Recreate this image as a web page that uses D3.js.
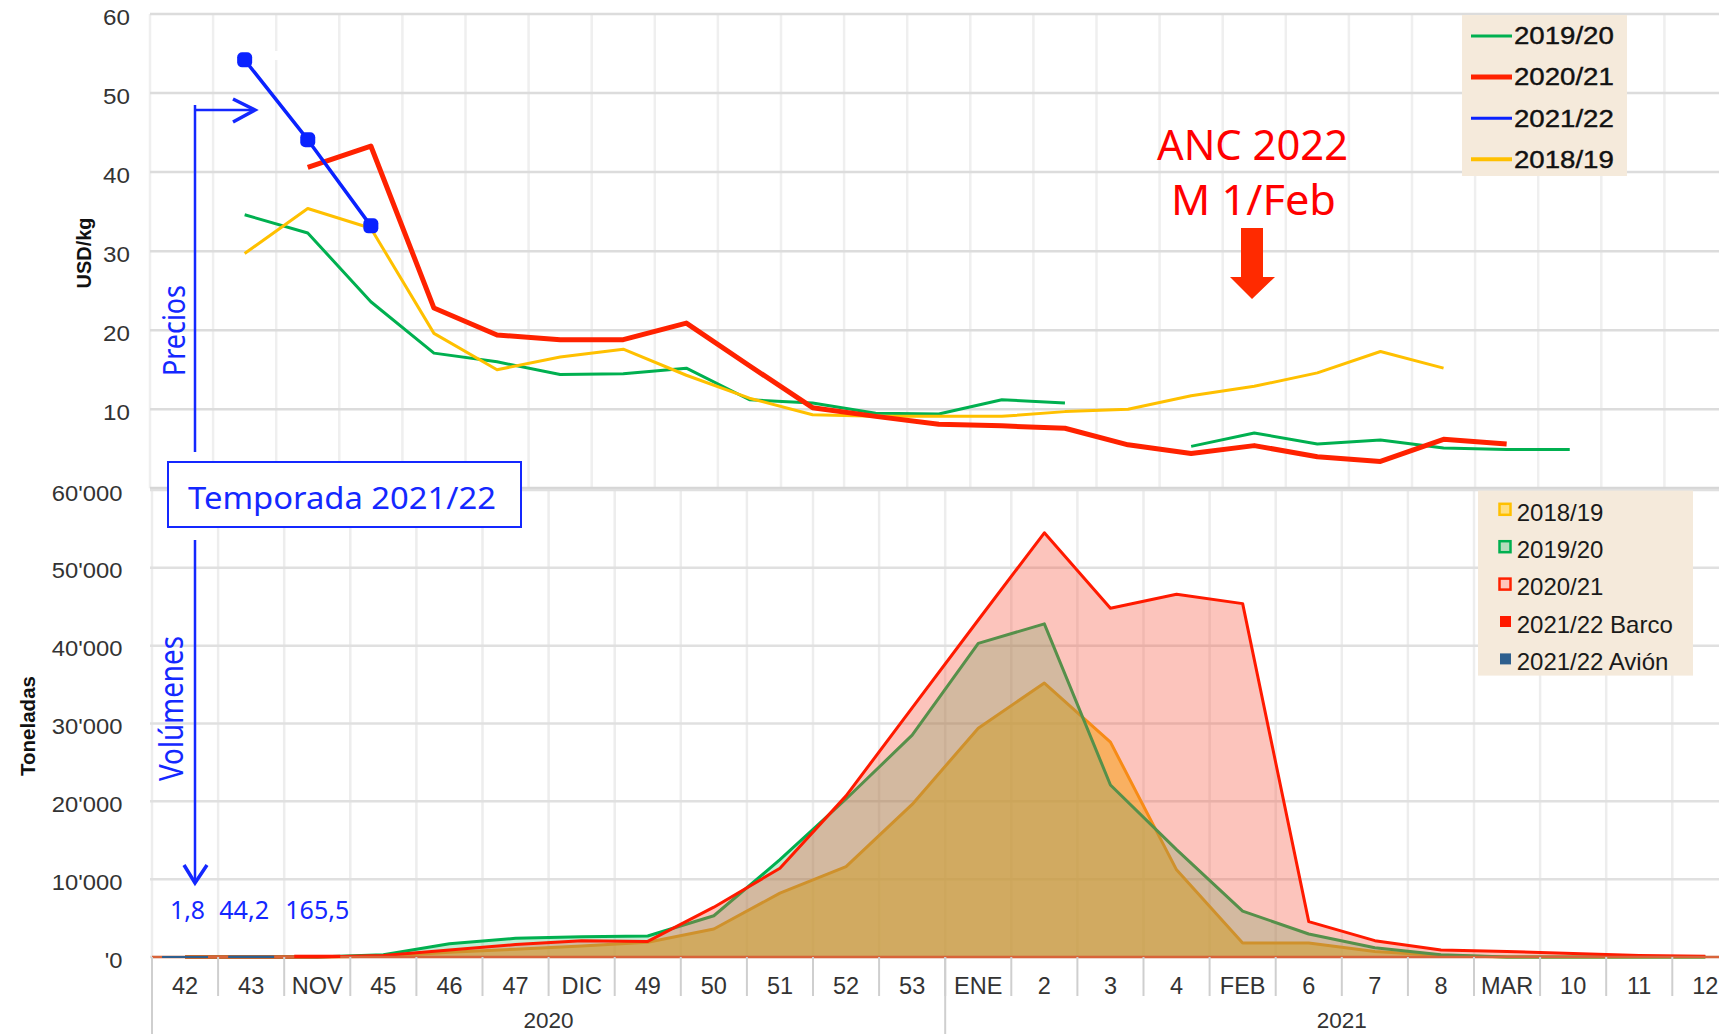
<!DOCTYPE html>
<html>
<head>
<meta charset="utf-8">
<script src="https://cdn.jsdelivr.net/npm/d3@7"></script>
<style>
  body { margin: 0; background: #fff; }
  svg { display: block; }
  text { font-family: "Liberation Sans", Arial, sans-serif; }
  .calibri { font-family: "Noto Sans", "Open Sans", sans-serif; }
</style>
</head>
<body>
<svg id="chart"></svg>
<script>
// ---- data ----
const weeks = ["42","43","NOV","45","46","47","DIC","49","50","51","52","53",
               "ENE","2","3","4","FEB","6","7","8","MAR","10","11","12"];
const yearLabels = ["2020", "2021"];
const yearSpans = [[0, 11], [12, 23]];

// precios USD/kg
const priceTicks = [0, 10, 20, 30, 40, 50, 60];
const precio1920 = [null, 34.6, 32.3, 23.6, 17.1, 16.0, 14.4, 14.5, 15.2, 11.2, 10.8, 9.5,
                    9.4, 11.2, 10.8, null, 5.3, 7.0, 5.6, 6.1, 5.1, 4.9, 4.9, null];
const precio1819 = [null, 29.7, 35.4, 32.9, 19.6, 15.0, 16.6, 17.6, 14.3, 11.4, 9.3, 9.1,
                    9.1, 9.1, 9.7, 10.0, 11.7, 12.9, 14.6, 17.3, 15.2, null, null, null];
const precio2021 = [null, null, 40.6, 43.3, 22.8, 19.4, 18.8, 18.8, 20.9, 15.5, 10.2, 9.1,
                    8.1, 7.9, 7.6, 5.5, 4.4, 5.4, 4.0, 3.4, 6.2, 5.6, null, null];
const precio2122 = [null, 54.2, 44.1, 33.2, null, null, null, null, null, null, null, null,
                    null, null, null, null, null, null, null, null, null, null, null, null];
const priceLegend = ["2019/20", "2020/21", "2021/22", "2018/19"];

// volúmenes (toneladas)
const volTicks = [0, 10000, 20000, 30000, 40000, 50000, 60000];
const volTickLabels = ["'0", "10'000", "20'000", "30'000", "40'000", "50'000", "60'000"];
const vol1819 = [0, 0, 0, 100, 600, 1000, 1400, 1900, 3600, 8200, 11600, 19600,
                 29400, 35200, 27600, 11200, 1800, 1800, 700, 200, 0, 0, 0, 0];
const vol1920 = [0, 0, 0, 300, 1700, 2400, 2600, 2700, 5300, 12500, 20300, 28500,
                 40300, 42800, 22100, 13800, 5900, 2950, 1200, 300, 0, 0, 0, 0];
const vol2021 = [0, 0, 0, 200, 900, 1600, 2100, 2000, 6400, 11400, 20700, 32000,
                 43300, 54500, 44800, 46600, 45400, 4550, 2100, 900, 700, 450, 200, 100];
const avion2122 = [1.8, 44.2, 0];
const barco2122 = [0, 0, 165.5];
const vol2122Labels = ["1,8", "44,2", "165,5"];
const volLegend = ["2018/19", "2019/20", "2020/21", "2021/22 Barco", "2021/22 Avión"];

// ---- setup ----
const width = 1719, height = 1034;
const svg = d3.select("#chart").attr("width", width).attr("height", height);

const blue = "#1428ff";
const colors = {
  "2018/19": "#ffc000", "2019/20": "#00b050", "2020/21": "#ff2200", "2021/22": "#0a22ff"
};

function stretch(sel, k) {
  sel.each(function() {
    const w = this.getComputedTextLength();
    d3.select(this).attr("textLength", w * k).attr("lengthAdjust", "spacingAndGlyphs");
  });
}

// ================= PRECIOS (top) =================
const xTop = d3.scaleBand().domain(weeks).range([150, 150 + 24 * 63.1]);
const yTop = d3.scaleLinear().domain([0, 60]).range([488.3, 14]);
const cTop = w => xTop(w) + xTop.bandwidth() / 2;

const gTop = svg.append("g");
const topEdges = weeks.map(w => xTop(w)).concat([xTop.range()[1]]);

gTop.selectAll(".vgrid").data(topEdges).join("line")
   .attr("x1", d => d).attr("x2", d => d)
   .attr("y1", yTop(60)).attr("y2", yTop(0))
   .attr("stroke", "#efefef").attr("stroke-width", 2.5);

gTop.selectAll(".hgrid").data(priceTicks).join("line")
   .attr("x1", 150).attr("x2", width)
   .attr("y1", d => yTop(d)).attr("y2", d => yTop(d))
   .attr("stroke", d => d === 0 ? "#d6d6d6" : "#dcdcdc")
   .attr("stroke-width", d => d === 0 ? 3 : 2.5);

gTop.selectAll(".ylab").data(priceTicks.filter(d => d > 0)).join("text")
   .attr("x", 130).attr("y", d => yTop(d) + 11)
   .attr("text-anchor", "end")
   .style("font-size", "22px").style("fill", "#333")
   .text(d => d)
   .call(stretch, 1.1);

gTop.append("text")
   .attr("transform", "translate(91,253) rotate(-90)")
   .attr("text-anchor", "middle")
   .style("font-size", "20px").style("font-weight", "bold").style("fill", "#111")
   .text("USD/kg");

// small white patch near first 2021/22 point
gTop.append("rect").attr("x", 275).attr("y", 51).attr("width", 37).attr("height", 9).attr("fill", "#fff");

const lineTop = d3.line()
  .defined(d => d.v != null)
  .x(d => cTop(d.w))
  .y(d => yTop(d.v));

const topSeries = [
  { name: "2019/20", vals: precio1920, w: 3 },
  { name: "2018/19", vals: precio1819, w: 3 },
  { name: "2020/21", vals: precio2021, w: 5 },
  { name: "2021/22", vals: precio2122, w: 3.5 }
];

topSeries.forEach(s => {
  const pts = weeks.map((w, i) => ({ w: w, v: s.vals[i] }));
  gTop.append("path")
     .datum(pts)
     .attr("d", lineTop)
     .attr("fill", "none")
     .attr("stroke", colors[s.name])
     .attr("stroke-width", s.w)
     .attr("stroke-linejoin", "round");
});

gTop.selectAll(".dot").data(weeks.map((w, i) => ({ w: w, v: precio2122[i] })).filter(d => d.v != null))
   .join("rect")
   .attr("x", d => cTop(d.w) - 7.5).attr("y", d => yTop(d.v) - 7.5)
   .attr("width", 15).attr("height", 15).attr("rx", 5)
   .attr("fill", colors["2021/22"]);

// legend precios
const lgTop = gTop.append("g");
lgTop.append("rect").attr("x", 1462).attr("y", 15).attr("width", 165).attr("height", 161).attr("fill", "#f5eadb");
priceLegend.forEach((name, i) => {
  const cy = 36 + i * 41.1;
  lgTop.append("line")
       .attr("x1", 1471).attr("x2", 1512).attr("y1", cy).attr("y2", cy)
       .attr("stroke", colors[name]).attr("stroke-width", name === "2020/21" ? 5 : (name === "2018/19" ? 4 : 3));
  lgTop.append("text")
       .attr("x", 1514).attr("y", cy + 8.3)
       .style("font-size", "23px").style("fill", "#111")
       .style("stroke", "#111").style("stroke-width", 0.4)
       .text(name)
       .call(stretch, 1.2);
});

// ANC annotation
gTop.append("text").attr("class", "calibri")
   .attr("x", 1157).attr("y", 160)
   .attr("textLength", 191).attr("lengthAdjust", "spacingAndGlyphs")
   .style("font-size", "42px").style("fill", "#ff0000")
   .text("ANC 2022");
gTop.append("text").attr("class", "calibri")
   .attr("x", 1171).attr("y", 215)
   .attr("textLength", 165).attr("lengthAdjust", "spacingAndGlyphs")
   .style("font-size", "42px").style("fill", "#ff0000")
   .text("M 1/Feb");
gTop.append("path")
   .attr("d", "M1241,228 H1263 V277 H1275 L1252,299 L1230,277 H1241 Z")
   .attr("fill", "#ff2a00");

// ================= VOLÚMENES (bottom) =================
const xBot = d3.scaleBand().domain(weeks).range([152, 152 + 24 * 66.1]);
const yBot = d3.scaleLinear().domain([0, 60000]).range([957, 490]);
const cBot = w => xBot(w) + xBot.bandwidth() / 2;

const gBot = svg.append("g");
const botEdges = weeks.map(w => xBot(w)).concat([xBot.range()[1]]);

gBot.selectAll(".vgrid").data(botEdges).join("line")
   .attr("x1", d => d).attr("x2", d => d)
   .attr("y1", yBot(60000)).attr("y2", yBot(0))
   .attr("stroke", "#ededed").attr("stroke-width", 2.5);

gBot.selectAll(".hgrid").data(volTicks).join("line")
   .attr("x1", 150).attr("x2", width)
   .attr("y1", d => yBot(d)).attr("y2", d => yBot(d))
   .attr("stroke", "#e0e0e0").attr("stroke-width", 2.5);

gBot.selectAll(".ylab").data(volTicks).join("text")
   .attr("x", 122.5).attr("y", d => yBot(d) + 10.5)
   .attr("text-anchor", "end")
   .style("font-size", "22px").style("fill", "#333")
   .text((d, i) => volTickLabels[i])
   .call(stretch, 1.08);

gBot.append("text")
   .attr("transform", "translate(35,726) rotate(-90)")
   .attr("text-anchor", "middle")
   .style("font-size", "20.5px").style("font-weight", "bold").style("fill", "#111")
   .text("Toneladas");

const areaBot = d3.area()
  .x(d => cBot(d.w))
  .y0(yBot(0))
  .y1(d => yBot(d.v));
const lineBot = d3.line()
  .x(d => cBot(d.w))
  .y(d => yBot(d.v));

const botSeries = [
  { vals: vol1819, fill: "rgb(247,204,24)", op: 0.6, stroke: "#f7a800" },
  { vals: vol1920, fill: "rgb(50,199,111)", op: 0.3, stroke: "#00b050" },
  { vals: vol2021, fill: "rgb(246,86,64)", op: 0.35, stroke: "#ff1a00" }
];

botSeries.forEach(s => {
  const pts = weeks.map((w, i) => ({ w: w, v: s.vals[i] }));
  gBot.append("path").datum(pts)
     .attr("d", areaBot)
     .attr("fill", s.fill).attr("fill-opacity", s.op);
  gBot.append("path").datum(pts)
     .attr("d", lineBot)
     .attr("fill", "none")
     .attr("stroke", s.stroke).attr("stroke-width", 3)
     .attr("stroke-linejoin", "round");
});

// x axis baseline
gBot.append("line")
   .attr("x1", 152).attr("x2", width)
   .attr("y1", yBot(0)).attr("y2", yBot(0))
   .attr("stroke", "#d8643a").attr("stroke-width", 2.5);

// 2021/22 columns (barco / avión)
const barW = 44;
[{ vals: barco2122, color: "#ff1a00" }, { vals: avion2122, color: "#2e5f8e" }].forEach(s => {
  gBot.selectAll(null).data(s.vals.map((v, i) => ({ w: weeks[i], v: v })).filter(d => d.v > 0))
     .join("rect")
     .attr("x", d => cBot(d.w) - barW / 2)
     .attr("y", d => yBot(d.v))
     .attr("width", barW)
     .attr("height", d => yBot(0) - yBot(d.v))
     .attr("fill", s.color)
     .attr("stroke", s.color).attr("stroke-width", 2);
});

// category separators and labels
gBot.selectAll(".sep").data(botEdges.slice(0, 24)).join("line")
   .attr("x1", d => d).attr("x2", d => d)
   .attr("y1", yBot(0)).attr("y2", 996)
   .attr("stroke", "#cfcfcf").attr("stroke-width", 2);

gBot.selectAll(".ysep").data(yearSpans.map(s => xBot(weeks[s[0]]))).join("line")
   .attr("x1", d => d).attr("x2", d => d)
   .attr("y1", yBot(0)).attr("y2", height)
   .attr("stroke", "#cfcfcf").attr("stroke-width", 2);

gBot.selectAll(".xlab").data(weeks).join("text")
   .attr("x", d => cBot(d)).attr("y", 993.5)
   .attr("text-anchor", "middle")
   .style("font-size", "23.5px").style("fill", "#333")
   .text(d => d);

gBot.selectAll(".year").data(yearLabels).join("text")
   .attr("x", (d, i) => (xBot(weeks[yearSpans[i][0]]) + xBot(weeks[yearSpans[i][1]]) + xBot.bandwidth()) / 2)
   .attr("y", 1028)
   .attr("text-anchor", "middle")
   .style("font-size", "22.5px").style("fill", "#333")
   .text(d => d);

// legend volúmenes
const lgBot = gBot.append("g");
lgBot.append("rect").attr("x", 1478).attr("y", 490.6).attr("width", 215).attr("height", 185).attr("fill", "#f5eadb");
const volMarks = [
  { stroke: "#ffc000", fill: "#ffdf80", solid: false },
  { stroke: "#00b050", fill: "#b6dcbc", solid: false },
  { stroke: "#ff2000", fill: "#ffc4bc", solid: false },
  { stroke: "#ff1a00", fill: "#ff1a00", solid: true },
  { stroke: "#2e5f8e", fill: "#2e5f8e", solid: true }
];
volLegend.forEach((name, i) => {
  const base = 520.6 + i * 37.4;
  const mc = base - 11.3;
  const m = volMarks[i];
  if (m.solid) {
    lgBot.append("rect").attr("x", 1500).attr("y", mc - 5.5).attr("width", 11).attr("height", 11).attr("fill", m.fill);
  } else {
    lgBot.append("rect").attr("x", 1499.5).attr("y", mc - 5.5).attr("width", 11).attr("height", 11)
         .attr("fill", m.fill).attr("stroke", m.stroke).attr("stroke-width", 2.5);
  }
  lgBot.append("text")
       .attr("x", 1516.7).attr("y", base)
       .style("font-size", "24px").style("fill", "#1a1a1a")
       .text(name);
});

// ================= annotations =================
const ann = svg.append("g");

// Precios arrow
ann.append("path").attr("d", "M195,452 V105 M194,110 H254")
   .attr("fill", "none").attr("stroke", blue).attr("stroke-width", 2.5);
ann.append("path").attr("d", "M233,99 L255,110 L233,122")
   .attr("fill", "none").attr("stroke", blue).attr("stroke-width", 3.5);
ann.append("text").attr("class", "calibri")
   .attr("transform", "translate(184.5,376) rotate(-90)")
   .attr("textLength", 91).attr("lengthAdjust", "spacingAndGlyphs")
   .style("font-size", "31px").style("fill", blue)
   .text("Precios");

// Temporada box
ann.append("rect").attr("x", 168).attr("y", 462).attr("width", 353).attr("height", 65)
   .attr("fill", "#fff").attr("stroke", blue).attr("stroke-width", 2);
ann.append("text").attr("class", "calibri")
   .attr("x", 188).attr("y", 509)
   .attr("textLength", 308).attr("lengthAdjust", "spacingAndGlyphs")
   .style("font-size", "31px").style("fill", blue)
   .text("Temporada 2021/22");

// Volúmenes arrow
ann.append("path").attr("d", "M195,540 V882")
   .attr("fill", "none").attr("stroke", blue).attr("stroke-width", 2.5);
ann.append("path").attr("d", "M184,865 L195,883 L207,865")
   .attr("fill", "none").attr("stroke", blue).attr("stroke-width", 3.5);
ann.append("text").attr("class", "calibri")
   .attr("transform", "translate(183,781) rotate(-90)")
   .attr("textLength", 145).attr("lengthAdjust", "spacingAndGlyphs")
   .style("font-size", "32px").style("fill", blue)
   .text("Volúmenes");

// volume labels 2021/22
const labelShift = [2.5, -7, 0];
const labelWidth = [35, 50, 64];
ann.selectAll(".vlab").data(vol2122Labels).join("text")
   .attr("class", "calibri")
   .attr("x", (d, i) => cBot(weeks[i]) + labelShift[i])
   .attr("y", 918.5)
   .attr("text-anchor", "middle")
   .attr("textLength", (d, i) => labelWidth[i]).attr("lengthAdjust", "spacingAndGlyphs")
   .style("font-size", "26px").style("fill", blue)
   .text(d => d);
</script>
</body>
</html>
